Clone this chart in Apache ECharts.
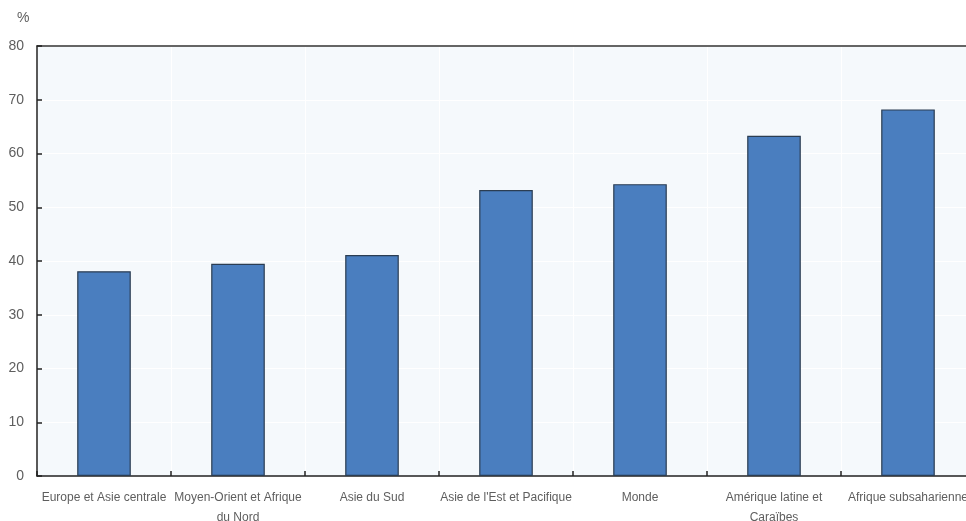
<!DOCTYPE html>
<html><head><meta charset="utf-8">
<script src="https://cdn.jsdelivr.net/npm/echarts@6/dist/echarts.min.js"></script>
<style>html,body{margin:0;padding:0;background:#fff}#c{width:966px;height:521px}</style>
</head><body><div id="c"></div>
<script>
var categories = ["Europe et Asie centrale", "Moyen-Orient et Afrique du Nord", "Asie du Sud", "Asie de l'Est et Pacifique", "Monde", "Amérique latine et Caraïbes", "Afrique subsaharienne"];
var values = [38.1, 39.5, 41.1, 53.2, 54.3, 63.3, 68.2];
var yTicks = [0, 10, 20, 30, 40, 50, 60, 70, 80];
var font = "'Liberation Sans', Arial, sans-serif";
function wrapLabel(s) {
  if (s.length <= 26) return s;
  var cut = s.lastIndexOf(' ', 24);
  return s.slice(0, cut) + '\n' + s.slice(cut + 1);
}
var chart = echarts.init(document.getElementById('c'));
chart.setOption({
  animation: false,
  grid: {left: 37, top: 46, width: 938, height: 430, outerBoundsMode: 'none', containLabel: false, show: true, backgroundColor: '#f5f9fc', borderWidth: 0},
  graphic: [{type: 'text', left: 17, top: 11, style: {text: '%', font: '14px ' + font, fill: '#5e5e5e'}}],
  xAxis: [{
    type: 'category', data: categories,
    axisLine: {lineStyle: {color: '#222', width: 1.5}},
    axisTick: {show: true, inside: true, length: 5, lineStyle: {color: '#222', width: 1.5}},
    splitLine: {show: true, lineStyle: {color: '#ffffff', width: 1}},
    axisLabel: {color: '#5e5e5e', fontFamily: font, fontSize: 12, margin: 12, lineHeight: 20, interval: 0, formatter: wrapLabel}
  }, {
    type: 'category', data: categories, position: 'top',
    axisLine: {show: true, lineStyle: {color: '#333', width: 1.5}},
    axisTick: {show: false}, axisLabel: {show: false}, splitLine: {show: false}
  }],
  yAxis: {
    type: 'value', min: yTicks[0], max: yTicks[yTicks.length - 1], interval: 10,
    axisLine: {show: true, lineStyle: {color: '#222', width: 1.5}},
    axisTick: {show: true, inside: true, length: 5, lineStyle: {color: '#222', width: 1.5}},
    splitLine: {show: true, lineStyle: {color: '#ffffff', width: 1}},
    axisLabel: {color: '#5e5e5e', fontFamily: font, fontSize: 14, margin: 13}
  },
  series: [{
    type: 'bar', data: values, barWidth: '40%', xAxisIndex: 0,
    itemStyle: {color: '#4a7ebf', borderColor: '#2b3d52', borderWidth: 1.2}
  }]
});
</script></body></html>
